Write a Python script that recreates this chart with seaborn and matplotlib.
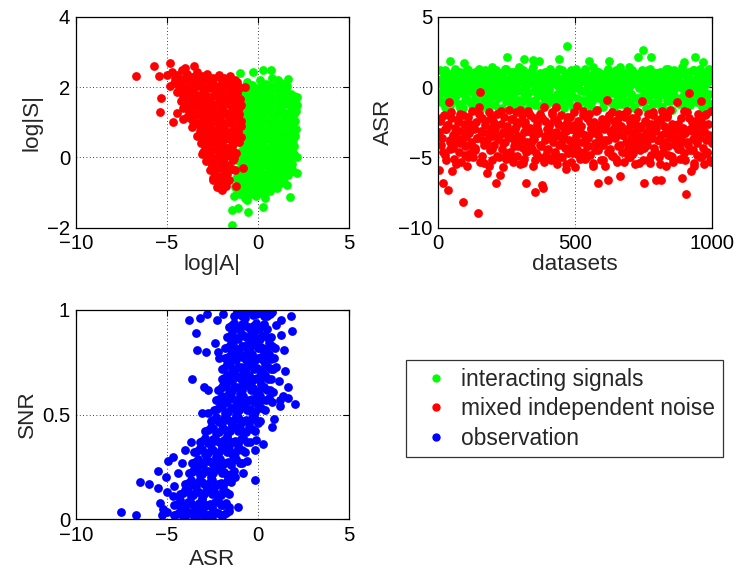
import numpy as np
import matplotlib
matplotlib.use('Agg')
import matplotlib.pyplot as plt
from matplotlib.lines import Line2D
from matplotlib.ticker import FuncFormatter
import seaborn as sns

# top-left: log|A| vs log|S| for interacting signals (green)
signal_pts = np.array([
    (-1.54, 2.23), (-0.99, 2.39), (-0.26, 2.44), (0.26, 2.48), (0.7, 2.48), (1.1, 2.2), (1.65, 2.22),
    (2.13, 1.73), (2.18, 1.49), (2.18, 0.02), (2.18, -0.45), (1.9, -0.2), (1.76, -1.12), (1.03, -0.88),
    (1.58, -0.79), (-1.41, -1.92), (-1.41, -1.5), (-1.08, -1.45), (-0.53, -1.55), (0.29, -1.42), (-0.62, -1.2),
    (-1.2, 2.1), (-0.6, 2.15), (-0.3, 2.05), (0.1, 2.2), (0.45, 2.1), (0.8, 2.25), (1.3, 2.12), (1.6, 2.02),
    (-0.85, 1.85), (-0.55, 1.95), (-0.25, 1.8), (0.05, 1.92), (0.35, 1.78), (0.65, 1.88), (0.95, 1.97),
    (1.25, 1.82), (1.55, 1.9), (1.85, 1.8),
    (-0.9, 1.6), (-0.6, 1.7), (-0.3, 1.55), (0.0, 1.68), (0.3, 1.58), (0.6, 1.72), (0.9, 1.53), (1.2, 1.66),
    (1.5, 1.6), (1.8, 1.7), (2.05, 1.57),
    (-0.85, 1.4), (-0.55, 1.3), (-0.25, 1.45), (0.05, 1.33), (0.35, 1.42), (0.65, 1.28), (0.95, 1.47),
    (1.25, 1.35), (1.55, 1.27), (1.85, 1.44), (2.1, 1.32),
    (-0.9, 1.15), (-0.6, 1.05), (-0.3, 1.2), (0.0, 1.08), (0.3, 1.18), (0.6, 1.02), (0.9, 1.14), (1.2, 1.22),
    (1.5, 1.06), (1.8, 1.17), (2.05, 1.04),
    (-0.85, 0.85), (-0.55, 0.95), (-0.25, 0.8), (0.05, 0.92), (0.35, 0.78), (0.65, 0.9), (0.95, 0.83),
    (1.25, 0.97), (1.55, 0.8), (1.85, 0.9), (2.1, 0.82),
    (-0.9, 0.6), (-0.6, 0.7), (-0.3, 0.55), (0.0, 0.68), (0.3, 0.58), (0.6, 0.72), (0.9, 0.56), (1.2, 0.66),
    (1.5, 0.58), (1.8, 0.7), (2.05, 0.6),
    (-0.95, 0.4), (-0.65, 0.3), (-0.35, 0.45), (-0.05, 0.33), (0.25, 0.42), (0.55, 0.28), (0.85, 0.38),
    (1.15, 0.45), (1.45, 0.3), (1.75, 0.4), (2.0, 0.32),
    (-1.0, 0.15), (-0.7, 0.05), (-0.4, 0.2), (-0.1, 0.1), (0.2, 0.18), (0.5, 0.03), (0.8, 0.12), (1.1, 0.2),
    (1.4, 0.08), (1.7, 0.16), (2.0, 0.1),
    (-1.05, -0.1), (-0.75, -0.2), (-0.45, -0.05), (-0.15, -0.15), (0.15, -0.22), (0.45, -0.08),
    (0.75, -0.18), (1.05, -0.05), (1.35, -0.2), (1.65, -0.1),
    (-1.1, -0.35), (-0.8, -0.45), (-0.5, -0.3), (-0.2, -0.42), (0.1, -0.33), (0.4, -0.47), (0.7, -0.3),
    (1.0, -0.4), (1.3, -0.35), (1.6, -0.45), (1.95, -0.38),
    (-1.2, -0.6), (-0.9, -0.7), (-0.6, -0.55), (-0.3, -0.68), (0.0, -0.58), (0.3, -0.72), (0.6, -0.6),
    (0.9, -0.65), (1.2, -0.55), (1.45, -0.7),
    (-1.25, -0.85), (-0.95, -0.95), (-0.65, -0.8), (-0.35, -0.9), (-0.05, -0.82), (0.25, -0.95),
    (0.55, -0.85), (0.85, -0.78),
    (-1.3, -1.1), (-1.0, -1.05), (-0.7, -1.15), (-0.4, -1.05), (-0.1, -1.1), (0.2, -1.02), (0.4, -1.15),
    (-0.75, 2.0), (-0.45, 2.05), (-0.15, 1.98), (0.15, 2.03), (0.45, 1.97), (0.75, 2.02), (1.05, 2.05), (1.35, 1.98),
    (-0.7, 1.75), (-0.4, 1.72), (-0.1, 1.77), (0.2, 1.74), (0.5, 1.78), (0.8, 1.73), (1.1, 1.76), (1.4, 1.72),
    (1.7, 1.77), (2.0, 1.74),
    (-0.75, 1.5), (-0.45, 1.47), (-0.15, 1.52), (0.15, 1.49), (0.45, 1.53), (0.75, 1.48), (1.05, 1.51),
    (1.35, 1.47), (1.65, 1.52), (1.95, 1.5),
    (-0.7, 1.25), (-0.4, 1.22), (-0.1, 1.27), (0.2, 1.24), (0.5, 1.28), (0.8, 1.23), (1.1, 1.26), (1.4, 1.22),
    (1.7, 1.27), (2.0, 1.24),
    (-0.75, 1.0), (-0.45, 0.97), (-0.15, 1.02), (0.15, 0.99), (0.45, 1.03), (0.75, 0.98), (1.05, 1.01),
    (1.35, 0.97), (1.65, 1.02), (1.95, 1.0),
    (-0.7, 0.75), (-0.4, 0.72), (-0.1, 0.77), (0.2, 0.74), (0.5, 0.78), (0.8, 0.73), (1.1, 0.76), (1.4, 0.72),
    (1.7, 0.77), (2.0, 0.74),
    (-0.75, 0.5), (-0.45, 0.47), (-0.15, 0.52), (0.15, 0.49), (0.45, 0.53), (0.75, 0.48), (1.05, 0.51),
    (1.35, 0.47), (1.65, 0.52), (1.95, 0.5),
    (-0.8, 0.25), (-0.5, 0.22), (-0.2, 0.27), (0.1, 0.24), (0.4, 0.28), (0.7, 0.23), (1.0, 0.26), (1.3, 0.22),
    (1.6, 0.27), (1.9, 0.24),
    (-0.85, 0.0), (-0.55, -0.03), (-0.25, 0.02), (0.05, -0.01), (0.35, 0.03), (0.65, -0.02), (0.95, 0.01),
    (1.25, -0.03), (1.55, 0.02), (1.85, 0.0),
    (-0.9, -0.25), (-0.6, -0.28), (-0.3, -0.23), (0.0, -0.26), (0.3, -0.22), (0.6, -0.27), (0.9, -0.24),
    (1.2, -0.28), (1.5, -0.23), (1.8, -0.26),
    (-1.05, -0.5), (-0.75, -0.53), (-0.45, -0.48), (-0.15, -0.51), (0.15, -0.47), (0.45, -0.52), (0.75, -0.49),
    (1.05, -0.53), (1.35, -0.48), (1.65, -0.5),
    (-1.1, -0.75), (-0.8, -0.78), (-0.5, -0.73), (-0.2, -0.76), (0.1, -0.72), (0.4, -0.77), (0.7, -0.74),
    (1.0, -0.7), (1.3, -0.73),
    (-1.15, -1.0), (-0.85, -0.97), (-0.55, -1.02), (-0.25, -0.99), (0.05, -0.95), (0.35, -1.0), (0.65, -0.97),
])

# top-left: mixed independent noise (red)
noise_pts = np.array([
    (-6.7, 2.31), (-5.7, 2.6), (-5.43, 2.31), (-4.84, 2.69), (-4.83, 2.04), (-5.34, 1.68), (-5.4, 1.29),
    (-4.66, 1.01), (-4.48, 1.25), (-4.15, 1.08), (-0.72, 1.99), (-1.17, 2.15), (-1.27, -0.36),
    (-1.23, -0.81), (-0.81, -0.31), (-3.06, 0.09), (-2.46, -0.64), (-2.09, -0.88), (-5.0, 2.35),
    (-4.75, 2.42), (-4.45, 2.33), (-4.2, 2.47), (-3.92, 2.36), (-3.6, 2.29), (-3.35, 2.44), (-3.05, 2.31),
    (-2.78, 2.38), (-2.45, 2.27), (-2.15, 2.33), (-1.85, 2.26), (-1.55, 2.3), (-4.0, 2.55), (-3.5, 2.6),
    (-4.6, 2.12), (-4.3, 2.05), (-4.05, 2.2), (-3.75, 2.08), (-3.45, 2.16), (-3.2, 2.02), (-2.9, 2.21),
    (-2.6, 2.1), (-2.3, 2.04), (-2.0, 2.18), (-1.7, 2.07), (-1.4, 2.13), (-1.1, 2.02),
    (-4.45, 1.85), (-4.15, 1.95), (-3.85, 1.8), (-3.55, 1.92), (-3.25, 1.78), (-2.95, 1.88), (-2.65, 1.97),
    (-2.35, 1.8), (-2.05, 1.9), (-1.75, 1.77), (-1.45, 1.94), (-1.15, 1.83),
    (-4.25, 1.6), (-3.95, 1.7), (-3.65, 1.55), (-3.35, 1.68), (-3.05, 1.58), (-2.75, 1.72), (-2.45, 1.53),
    (-2.15, 1.66), (-1.85, 1.6), (-1.55, 1.7), (-1.25, 1.56), (-1.0, 1.65),
    (-4.1, 1.4), (-3.8, 1.3), (-3.5, 1.45), (-3.2, 1.33), (-2.9, 1.42), (-2.6, 1.28), (-2.3, 1.47),
    (-2.0, 1.35), (-1.7, 1.27), (-1.4, 1.44), (-1.1, 1.32), (-0.95, 1.48),
    (-3.9, 1.15), (-3.6, 1.05), (-3.3, 1.2), (-3.0, 1.08), (-2.7, 1.18), (-2.4, 1.02), (-2.1, 1.14),
    (-1.8, 1.22), (-1.5, 1.06), (-1.2, 1.17), (-0.92, 1.04),
    (-3.65, 0.85), (-3.35, 0.95), (-3.05, 0.8), (-2.75, 0.92), (-2.45, 0.78), (-2.15, 0.9), (-1.85, 0.83),
    (-1.55, 0.97), (-1.25, 0.8), (-0.95, 0.9),
    (-3.35, 0.6), (-3.05, 0.7), (-2.75, 0.55), (-2.45, 0.68), (-2.15, 0.58), (-1.85, 0.72), (-1.55, 0.56),
    (-1.25, 0.66), (-0.95, 0.58),
    (-3.15, 0.4), (-2.85, 0.3), (-2.55, 0.45), (-2.25, 0.33), (-1.95, 0.42), (-1.65, 0.28), (-1.35, 0.38),
    (-1.05, 0.45),
    (-3.0, 0.15), (-2.7, 0.05), (-2.4, 0.2), (-2.1, 0.1), (-1.8, 0.18), (-1.5, 0.03), (-1.2, 0.12),
    (-2.85, -0.1), (-2.55, -0.2), (-2.25, -0.05), (-1.95, -0.15), (-1.65, -0.22), (-1.35, -0.08),
    (-2.65, -0.35), (-2.35, -0.45), (-2.05, -0.3), (-1.75, -0.42), (-1.45, -0.33),
    (-2.45, -0.6), (-2.15, -0.7), (-1.85, -0.55), (-1.6, -0.65),
    (-2.25, -0.85), (-1.95, -0.92), (-1.75, -0.8),
    (-4.55, 2.25), (-4.25, 2.22), (-3.95, 2.28), (-3.65, 2.24), (-3.35, 2.27), (-3.05, 2.21), (-2.75, 2.26),
    (-2.45, 2.23), (-2.15, 2.28), (-1.85, 2.22), (-1.55, 2.25), (-1.25, 2.2),
    (-4.35, 2.0), (-4.05, 1.97), (-3.75, 2.02), (-3.45, 1.99), (-3.15, 2.03), (-2.85, 1.98), (-2.55, 2.01),
    (-2.25, 1.97), (-1.95, 2.02), (-1.65, 1.99), (-1.35, 2.03), (-1.05, 1.97),
    (-4.1, 1.75), (-3.8, 1.72), (-3.5, 1.77), (-3.2, 1.74), (-2.9, 1.78), (-2.6, 1.73), (-2.3, 1.76),
    (-2.0, 1.72), (-1.7, 1.77), (-1.4, 1.74), (-1.1, 1.7),
    (-4.0, 1.5), (-3.7, 1.47), (-3.4, 1.52), (-3.1, 1.49), (-2.8, 1.53), (-2.5, 1.48), (-2.2, 1.51),
    (-1.9, 1.47), (-1.6, 1.52), (-1.3, 1.49), (-1.0, 1.45),
    (-3.75, 1.25), (-3.45, 1.22), (-3.15, 1.27), (-2.85, 1.24), (-2.55, 1.28), (-2.25, 1.23), (-1.95, 1.26),
    (-1.65, 1.22), (-1.35, 1.27), (-1.05, 1.24),
    (-3.5, 1.0), (-3.2, 0.97), (-2.9, 1.02), (-2.6, 0.99), (-2.3, 1.03), (-2.0, 0.98), (-1.7, 1.01),
    (-1.4, 0.97), (-1.1, 1.02),
    (-3.2, 0.75), (-2.9, 0.72), (-2.6, 0.77), (-2.3, 0.74), (-2.0, 0.78), (-1.7, 0.73), (-1.4, 0.76), (-1.1, 0.72),
    (-3.0, 0.5), (-2.7, 0.47), (-2.4, 0.52), (-2.1, 0.49), (-1.8, 0.53), (-1.5, 0.48), (-1.2, 0.51),
    (-2.9, 0.25), (-2.6, 0.22), (-2.3, 0.27), (-2.0, 0.24), (-1.7, 0.28), (-1.4, 0.23),
    (-2.75, 0.0), (-2.45, -0.03), (-2.15, 0.02), (-1.85, -0.01), (-1.55, 0.03), (-1.3, -0.02),
    (-2.5, -0.25), (-2.2, -0.28), (-1.9, -0.23), (-1.6, -0.26),
    (-2.3, -0.5), (-2.0, -0.53), (-1.7, -0.48), (-2.0, -0.75),
])

# top-right: ASR per dataset (two interleaved halves of the datasets)
signal_asr = [
    0.3, -0.5, 1.2, -1.1, 0.6, -0.2, 0.9, -1.4, 0.1, 1.0, -0.7, 0.4, -1.6, 1.85, -0.3, 0.7, -0.9, 0.2, 1.3, -0.6,
    -0.1, 0.8, -1.2, 0.5, 1.1, -0.4, 0.0, -1.5, 1.73, 0.6, -0.8, 0.3, 1.2, -1.0, -0.2, 0.9, 0.4, -1.3, 0.7, -0.5,
    1.0, -0.9, 0.2, -0.3, 1.3, -1.6, 0.5, 0.8, -0.6, 0.1, -1.1, 1.1, -0.2, 0.6, -1.4, 0.3, 0.9, -0.7, 1.4, 0.0,
    -0.4, 0.7, -1.3, 1.2, 0.2, -0.8, 0.5, -0.1, 1.0, -1.5, 0.4, 0.8, -0.6, 1.3, -1.0, 2.1, 0.1, -0.3, 0.6, -1.2,
    0.9, -0.5, 0.3, 1.1, -1.4, 0.0, 0.7, -0.9, 1.4, -0.2, 0.5, -1.1, 0.8, 1.97, -0.7, 0.2, -1.6, 1.0, -0.4, 0.6,
    -1.0, 0.4, 1.2, 1.92, -0.3, 0.8, -1.3, 0.1, 0.6, -0.6, 1.85, -0.1, -1.5, 0.9, 0.3, -0.8, 1.1, -0.4, 0.5, -1.2,
    0.7, -0.2, 1.3, -1.0, 0.2, -0.7, 1.0, 0.4, -1.4, 0.8, -0.5, 0.1, 1.99, -0.9, 0.6, 1.2, -1.2, 0.0, -0.3, 0.9,
    -0.6, 2.94, 0.3, -1.1, 1.1, -0.4, 0.7, -1.5, 0.5, 0.0, 1.3, -0.8, 0.2, -1.3, 0.9, -0.2, 0.6, 1.0, -0.9, 0.4,
    1.2, -0.3, -1.2, 0.8, 0.1, 1.85, -0.6, 0.5, -1.0, 1.4, 0.3, -0.5, -1.6, 0.7, 0.0, 1.1, -0.8, 0.4, -0.1, 0.9,
    -1.4, 0.6, 0.2, -0.7, 1.0, -0.2, 1.3, 1.85, -1.1, 0.4, -0.4, 0.8, -1.5, 0.1, 1.2, -0.9, 0.5, -0.3, 0.9, -1.2,
    0.3, 1.1, -0.6, 0.7, -1.3, 0.0, 0.9, -0.2, 1.4, -1.0, 0.5, -0.5, 0.2, 1.0, -1.4, 0.6, -0.8, 0.4, 2.1, -0.1,
    0.8, -1.1, 0.3, 1.2, 2.63, -0.4, 0.6, -1.5, 0.1, 0.9, -0.7, 1.3, 2.16, -0.2, 0.5, -1.2, 0.0, 1.0, -0.6, 0.4,
    -0.9, 0.7, 1.1, -0.3, 0.2, -1.4, 0.8, 0.4, -0.6, 1.3, -1.0, 0.1, 0.6, -0.2, 1.0, -1.6, 0.5, -0.5, 1.2, 0.0,
    0.6, -0.8, 1.0, -1.2, 0.3, 0.9, -0.1, 1.4, -0.7, 1.8, 0.2, -1.3, 0.7, -0.4, 1.1, 0.0, -1.0, 0.5, 1.2, -0.5,
    -0.2, 2.1, 0.4, -1.1, 0.8, -0.6, 1.3, 0.1, -1.4, 1.8, 0.6, -0.3, 1.0, -0.9, 0.3, 1.2, -0.5, 0.7, -1.2, 0.5,
]
signal_asr_b = [
    0.5, -1.0, 0.1, 1.2, -0.4, 0.8, -1.3, 0.3, 1.0, -0.7, 0.6, -0.1, -1.5, 0.9, 0.2, -0.9, 1.3, -0.3, 0.7, -1.1,
    0.0, 1.1, -0.6, 0.4, -1.4, 0.8, -0.2, 1.2, -0.8, 0.3, -1.2, 0.6, 1.0, -0.5, 0.1, -1.6, 0.9, -0.1, 0.5, 1.3,
    -0.7, 0.2, 1.1, -1.0, 0.6, -0.3, 0.9, -1.5, 0.4, 1.2, -0.6, 0.0, 0.8, -1.2, 0.3, 1.4, -0.9, 0.5, -0.2, 1.0,
    -1.3, 0.7, 0.1, -0.5, 1.1, -0.8, 0.4, 0.9, -1.1, 0.2, 1.3, -0.4, 0.6, -1.5, 0.0, 0.8, -0.7, 1.2, -0.1, 0.5,
    1.0, -1.2, 0.3, 0.7, -0.3, 1.3, -0.9, 0.1, 0.6, -1.4, 0.9, -0.2, 0.4, 1.1, -0.6, 0.2, -1.0, 0.8, -0.4, 1.2,
    -0.1, 0.6, -1.3, 1.0, 0.3, -0.7, 1.4, -0.2, 0.5, -1.1, 0.8, 0.0, -0.5, 1.2, -1.5, 0.4, 0.9, -0.8, 0.2, 1.1,
    0.4, -0.9, 1.2, -0.3, 0.7, -1.2, 0.1, 1.0, -0.6, 0.5, -1.4, 0.9, 0.2, -0.1, 1.3, -1.0, 0.6, -0.4, 0.8, 0.0,
    -1.1, 0.9, 0.3, -0.5, 1.1, -0.8, 0.6, -1.3, 0.0, 1.2, -0.2, 0.7, -0.9, 0.4, 1.0, -1.5, 0.2, -0.6, 1.3, 0.5,
]
noise_asr = [
    -3.2, -5.9, -2.4, -4.1, -3.6, -6.8, -2.0, -4.8, -3.0, -2.7, -7.3, -1.04, -4.4, -3.8, -2.2, -6.0, -3.4, -5.1, -2.9, -4.0,
    -3.7, -2.3, -4.6, -3.1, -1.9, -5.3, -3.9, -8.15, -2.6, -4.2, -3.5, -5.6, -2.1, -3.3, -4.7, -2.8, -3.9, -1.7, -5.0, -3.0,
    -4.3, -2.5, -3.6, -8.98, -1.4, -0.38, -3.1, -4.9, -2.2, -3.8, -5.4, -2.7, -4.0, -6.1, -3.3, -1.8, -4.5, -2.9, -3.5, -5.2,
    -2.4, -4.1, -3.0, -6.85, -1.9, -3.7, -5.0, -6.26, -2.6, -4.4, -3.2, -5.7, -2.1, -3.9, -4.8, -2.8, -3.4, -1.6, -4.6, -3.1,
    -3.6, -5.3, -2.3, -4.2, -3.0, -1.8, -4.9, -3.5, -2.5, -5.5, -3.8, -2.0, -4.3, -3.2, -5.1, -2.7, -6.8, -3.9, -1.7, -4.5,
    -2.9, -4.0, -3.3, -5.6, -2.2, -3.7, -7.44, -4.7, -2.6, -3.1, -5.0, -1.9, -4.2, -6.97, -7.2, -1.45, -3.5, -2.4, -4.8, -3.0,
    -4.4, -2.8, -3.6, -5.2, -1.8, -3.9, -2.3, -4.6, -1.45, -3.2, -5.5, -2.6, -4.1, -3.4, -2.0, -5.0, -3.7, -2.9, -4.3, -5.8,
    -3.1, -2.5, -4.7, -3.8, -2.1, -5.3, -3.0, -4.0, -2.7, -5.7, -3.5, -1.35, -4.4, -2.4, -3.2, -5.1, -2.8, -3.9, -1.7, -4.6,
    -3.4, -5.0, -2.2, -4.2, -3.6, -1.9, -4.8, -2.9, -3.3, -5.4, -2.5, -4.0, -3.1, -1.6, -4.5, -6.85, -2.7, -3.7, -5.2, -2.3,
    -4.1, -3.0, -5.6, -2.6, -0.92, -6.6, -3.8, -2.0, -4.4, -3.3, -1.8, -4.9, -2.9, -3.5, -5.1, -2.4, -4.2, -3.0, -1.9, -6.3,
    -2.8, -4.6, -3.4, -5.3, -2.1, -3.9, -1.7, -4.3, -3.1, -2.5, -5.0, -3.6, -2.2, -4.7, -3.2, -5.5, -2.7, -4.0, -1.8, -3.5,
    -4.5, -2.9, -3.7, -0.97, -5.2, -6.85, -2.4, -3.3, -4.1, -1.9, -3.0, -5.4, -2.6, -4.8, -3.6, -2.0, -4.3, -3.1, -6.6, -2.5,
    -3.8, -5.0, -2.3, -6.6, -3.4, -1.7, -4.6, -2.8, -3.9, -5.6, -2.1, -4.2, -3.0, -1.6, -4.9, -3.5, -2.6, -5.3, -3.2, -4.0,
    -2.7, -1.04, -4.4, -3.6, -5.1, -2.2, -3.9, -6.5, -2.9, -4.7, -3.3, -7.63, -1.8, -4.1, -0.45, -3.0, -5.97, -2.5, -4.5, -3.7,
    -5.4, -2.4, -3.2, -4.8, -1.9, -3.6, -5.0, -0.97, -2.8, -4.3, -3.1, -5.5, -2.0, -3.8, -4.6, -2.6, -3.4, -5.2, -1.7, -4.0,
]
noise_asr_b = [
    -3.5, -2.2, -4.6, -3.0, -5.2, -2.7, -3.9, -1.8, -4.3, -3.3, -5.5, -2.5, -4.0, -3.7, -2.0, -4.8, -3.1, -5.0, -2.6, -4.2,
    -2.9, -4.5, -3.6, -1.9, -5.3, -3.2, -4.1, -2.4, -3.8, -5.6, -2.1, -4.4, -3.0, -2.7, -4.9, -3.5, -1.7, -4.0, -3.3, -5.1,
    -4.7, -3.4, -2.3, -5.0, -3.9, -2.8, -4.2, -1.6, -3.6, -5.4, -2.5, -4.6, -3.1, -2.0, -4.4, -3.7, -5.2, -2.9, -3.3, -4.1,
    -2.2, -5.3, -3.8, -4.5, -2.6, -3.2, -1.9, -4.9, -3.5, -2.4, -5.0, -4.0, -2.8, -3.6, -5.5, -2.1, -4.3, -3.0, -4.7, -1.8,
    -3.9, -2.7, -4.8, -3.3, -2.0, -5.1, -3.7, -4.2, -2.5, -3.0, -5.6, -4.5, -1.7, -3.4, -4.0, -2.9, -5.2, -3.8, -2.3, -4.6,
    -3.1, -4.9, -2.4, -3.6, -5.3, -2.1, -4.1, -3.4, -1.9, -4.7, -3.0, -5.0, -2.6, -3.9, -4.4, -2.2, -3.5, -5.4, -2.8, -4.0,
    -4.3, -2.5, -3.7, -5.1, -3.2, -1.8, -4.6, -2.9, -3.8, -5.5, -2.3, -4.2, -3.3, -2.0, -4.8, -3.6, -5.0, -2.7, -4.1, -3.0,
    -2.6, -4.4, -3.4, -1.7, -5.2, -3.9, -2.2, -4.5, -3.1, -5.6, -2.8, -4.0, -3.5, -2.4, -4.9, -3.2, -1.9, -4.7, -3.7, -5.3,
]
datasets = np.linspace(1, 1000, len(signal_asr))
datasets_b = np.linspace(4, 997, len(signal_asr_b))

# bottom-left: observation ASR vs SNR (blue)
obs_pts = np.array([
    (-1.3, 0.97), (-1.0, 0.99), (-0.7, 0.96), (-0.4, 1.0), (-0.1, 0.98), (0.2, 0.99), (0.5, 0.97), (0.8, 0.99),
    (-0.85, 1.0), (-0.25, 0.995), (0.35, 1.0), (-1.15, 0.995), (-3.78, 0.95), (-3.19, 0.96), (-2.8, 0.98),
    (-2.24, 0.95), (-1.9, 0.98), (1.3, 0.95), (1.82, 0.97),
    (-1.6, 0.92), (-1.3, 0.94), (-1.0, 0.91), (-0.7, 0.93), (-0.4, 0.9), (-0.1, 0.94), (0.2, 0.92), (0.5, 0.91),
    (-3.43, 0.89), (1.89, 0.9), (1.0, 0.93),
    (-1.7, 0.87), (-1.4, 0.89), (-1.1, 0.86), (-0.8, 0.88), (-0.5, 0.85), (-0.2, 0.89), (0.1, 0.86), (0.4, 0.88),
    (0.7, 0.87), (1.3, 0.88),
    (-1.8, 0.82), (-1.5, 0.84), (-1.2, 0.81), (-0.9, 0.83), (-0.6, 0.8), (-0.3, 0.84), (0.0, 0.82), (0.3, 0.81),
    (0.6, 0.84), (0.95, 0.82), (-3.35, 0.81), (-2.86, 0.8), (-2.37, 0.84), (1.45, 0.81),
    (-1.8, 0.77), (-1.5, 0.79), (-1.2, 0.76), (-0.9, 0.78), (-0.6, 0.75), (-0.3, 0.79), (0.0, 0.77), (0.3, 0.76),
    (0.6, 0.79), (0.9, 0.77), (-2.18, 0.8), (-2.15, 0.77),
    (-2.0, 0.72), (-1.7, 0.74), (-1.4, 0.71), (-1.1, 0.73), (-0.8, 0.7), (-0.5, 0.74), (-0.2, 0.72), (0.1, 0.71),
    (0.4, 0.74), (0.7, 0.72), (1.0, 0.73), (1.49, 0.71),
    (-2.0, 0.67), (-1.7, 0.69), (-1.4, 0.66), (-1.1, 0.68), (-0.8, 0.65), (-0.5, 0.69), (-0.2, 0.67), (0.1, 0.66),
    (0.4, 0.69), (0.75, 0.67), (-3.61, 0.67), (1.15, 0.66),
    (-2.2, 0.62), (-1.9, 0.64), (-1.6, 0.61), (-1.3, 0.63), (-1.0, 0.6), (-0.7, 0.64), (-0.4, 0.62), (-0.1, 0.61),
    (0.2, 0.64), (0.5, 0.62), (0.85, 0.61), (-2.97, 0.63), (-2.73, 0.62), (1.67, 0.63),
    (-2.3, 0.57), (-2.0, 0.59), (-1.7, 0.56), (-1.4, 0.58), (-1.1, 0.55), (-0.8, 0.59), (-0.5, 0.57), (-0.2, 0.56),
    (0.1, 0.59), (0.45, 0.57), (0.8, 0.56), (1.67, 0.58), (1.2, 0.57), (2.04, 0.55), (1.4, 0.59),
    (-2.4, 0.52), (-2.1, 0.54), (-1.8, 0.51), (-1.5, 0.53), (-1.2, 0.5), (-0.9, 0.54), (-0.6, 0.52), (-0.3, 0.51),
    (0.0, 0.54), (0.4, 0.52), (-3.06, 0.51), (-2.73, 0.51), (1.2, 0.54),
    (-2.6, 0.47), (-2.3, 0.49), (-2.0, 0.46), (-1.7, 0.48), (-1.4, 0.45), (-1.1, 0.49), (-0.8, 0.47), (-0.5, 0.46),
    (-0.2, 0.49), (0.1, 0.47), (0.9, 0.48), (0.79, 0.44), (0.02, 0.46),
    (-2.9, 0.42), (-2.6, 0.44), (-2.3, 0.41), (-2.0, 0.43), (-1.7, 0.4), (-1.4, 0.44), (-1.1, 0.42), (-0.8, 0.41),
    (-0.5, 0.44), (-0.15, 0.42),
    (-3.2, 0.37), (-2.9, 0.39), (-2.6, 0.36), (-2.3, 0.38), (-2.0, 0.35), (-1.7, 0.39), (-1.4, 0.37), (-1.1, 0.36),
    (-0.8, 0.39), (-0.45, 0.37), (-3.7, 0.37), (0.3, 0.36), (-0.1, 0.38),
    (-3.5, 0.32), (-3.2, 0.34), (-2.9, 0.31), (-2.6, 0.33), (-2.3, 0.3), (-2.0, 0.34), (-1.7, 0.32), (-1.4, 0.31),
    (-1.1, 0.34), (-0.7, 0.32), (-0.17, 0.33), (-4.0, 0.33),
    (-3.6, 0.27), (-3.3, 0.29), (-3.0, 0.26), (-2.7, 0.28), (-2.4, 0.25), (-2.1, 0.29), (-1.8, 0.27), (-1.5, 0.26),
    (-1.2, 0.29), (-0.85, 0.27), (-4.66, 0.3), (-4.93, 0.28), (-0.62, 0.28), (-4.2, 0.27),
    (-3.8, 0.22), (-3.5, 0.24), (-3.2, 0.21), (-2.9, 0.23), (-2.6, 0.2), (-2.3, 0.24), (-2.0, 0.22), (-1.7, 0.21),
    (-1.3, 0.23), (-5.52, 0.23), (-5.08, 0.2), (-0.81, 0.22), (-4.4, 0.22),
    (-4.0, 0.17), (-3.7, 0.19), (-3.4, 0.16), (-3.1, 0.18), (-2.8, 0.15), (-2.5, 0.19), (-2.2, 0.17), (-1.9, 0.16),
    (-1.5, 0.18), (-6.5, 0.18), (-5.98, 0.17), (-5.52, 0.15), (-1.27, 0.2), (-0.17, 0.19), (-4.6, 0.16),
    (-4.3, 0.12), (-4.0, 0.14), (-3.7, 0.11), (-3.4, 0.13), (-3.1, 0.1), (-2.8, 0.14), (-2.5, 0.12), (-2.2, 0.11),
    (-1.9, 0.14), (-1.6, 0.12), (-5.0, 0.13), (-4.7, 0.11),
    (-4.6, 0.07), (-4.3, 0.09), (-4.0, 0.06), (-3.7, 0.08), (-3.4, 0.05), (-3.1, 0.09), (-2.8, 0.07), (-2.5, 0.06),
    (-2.2, 0.09), (-1.9, 0.07), (-1.6, 0.06), (-5.4, 0.08), (-1.08, 0.06), (-5.2, 0.05),
    (-4.6, 0.02), (-4.3, 0.04), (-4.0, 0.01), (-3.7, 0.03), (-3.4, 0.0), (-3.1, 0.04), (-2.8, 0.02), (-2.5, 0.01),
    (-2.2, 0.03), (-1.9, 0.02), (-1.6, 0.04), (-7.54, 0.037), (-6.73, 0.02), (-5.3, 0.02), (-5.0, 0.035),
    (-1.15, 0.98), (-0.85, 0.97), (-0.55, 0.99), (-0.25, 0.975), (0.05, 0.985), (0.35, 0.97), (0.65, 0.98),
    (-1.45, 0.93), (-1.15, 0.915), (-0.85, 0.935), (-0.55, 0.92), (-0.25, 0.925), (0.05, 0.91), (0.35, 0.935),
    (-1.55, 0.875), (-1.25, 0.865), (-0.95, 0.885), (-0.65, 0.87), (-0.35, 0.88), (-0.05, 0.86), (0.25, 0.875),
    (0.55, 0.865),
    (-1.65, 0.825), (-1.35, 0.835), (-1.05, 0.815), (-0.75, 0.83), (-0.45, 0.82), (-0.15, 0.84), (0.15, 0.825),
    (0.45, 0.815), (0.8, 0.83),
    (-1.65, 0.775), (-1.35, 0.765), (-1.05, 0.785), (-0.75, 0.77), (-0.45, 0.78), (-0.15, 0.76), (0.15, 0.775),
    (0.45, 0.785), (0.75, 0.765),
    (-1.85, 0.725), (-1.55, 0.735), (-1.25, 0.715), (-0.95, 0.73), (-0.65, 0.72), (-0.35, 0.74), (-0.05, 0.725),
    (0.25, 0.715), (0.55, 0.73), (0.85, 0.72),
    (-1.85, 0.675), (-1.55, 0.665), (-1.25, 0.685), (-0.95, 0.67), (-0.65, 0.68), (-0.35, 0.66), (-0.05, 0.675),
    (0.25, 0.685), (0.55, 0.67),
    (-2.05, 0.625), (-1.75, 0.635), (-1.45, 0.615), (-1.15, 0.63), (-0.85, 0.62), (-0.55, 0.64), (-0.25, 0.625),
    (0.05, 0.615), (0.35, 0.63), (0.65, 0.62),
    (-2.15, 0.575), (-1.85, 0.565), (-1.55, 0.585), (-1.25, 0.57), (-0.95, 0.58), (-0.65, 0.56), (-0.35, 0.575),
    (-0.05, 0.585), (0.25, 0.57), (0.6, 0.58),
    (-2.25, 0.525), (-1.95, 0.535), (-1.65, 0.515), (-1.35, 0.53), (-1.05, 0.52), (-0.75, 0.54), (-0.45, 0.525),
    (-0.15, 0.515), (0.2, 0.53),
    (-2.45, 0.475), (-2.15, 0.465), (-1.85, 0.485), (-1.55, 0.47), (-1.25, 0.48), (-0.95, 0.46), (-0.65, 0.475),
    (-0.35, 0.485), (-0.05, 0.47),
    (-2.75, 0.425), (-2.45, 0.435), (-2.15, 0.415), (-1.85, 0.43), (-1.55, 0.42), (-1.25, 0.44), (-0.95, 0.425),
    (-0.65, 0.415), (-0.35, 0.43),
    (-3.05, 0.375), (-2.75, 0.365), (-2.45, 0.385), (-2.15, 0.37), (-1.85, 0.38), (-1.55, 0.36), (-1.25, 0.375),
    (-0.95, 0.385), (-0.6, 0.37),
    (-3.35, 0.325), (-3.05, 0.335), (-2.75, 0.315), (-2.45, 0.33), (-2.15, 0.32), (-1.85, 0.34), (-1.55, 0.325),
    (-1.25, 0.315), (-0.9, 0.33),
    (-3.45, 0.275), (-3.15, 0.265), (-2.85, 0.285), (-2.55, 0.27), (-2.25, 0.28), (-1.95, 0.26), (-1.65, 0.275),
    (-1.35, 0.285), (-1.0, 0.27),
    (-3.65, 0.225), (-3.35, 0.235), (-3.05, 0.215), (-2.75, 0.23), (-2.45, 0.22), (-2.15, 0.24), (-1.85, 0.225),
    (-1.5, 0.215),
    (-3.85, 0.175), (-3.55, 0.165), (-3.25, 0.185), (-2.95, 0.17), (-2.65, 0.18), (-2.35, 0.16), (-2.05, 0.175),
    (-1.7, 0.185),
    (-4.15, 0.125), (-3.85, 0.135), (-3.55, 0.115), (-3.25, 0.13), (-2.95, 0.12), (-2.65, 0.14), (-2.35, 0.125),
    (-2.05, 0.115), (-1.75, 0.13),
    (-4.45, 0.075), (-4.15, 0.065), (-3.85, 0.085), (-3.55, 0.07), (-3.25, 0.08), (-2.95, 0.06), (-2.65, 0.075),
    (-2.35, 0.085), (-2.05, 0.07), (-1.75, 0.08),
    (-4.45, 0.025), (-4.15, 0.015), (-3.85, 0.035), (-3.55, 0.02), (-3.25, 0.03), (-2.95, 0.01), (-2.65, 0.025),
    (-2.35, 0.035), (-2.05, 0.02), (-1.75, 0.03),
])

labels = ['interacting signals', 'mixed independent noise', 'observation']
green = (0, 1, 0)
red = (1, 0, 0)
blue = (0, 0, 1)

sns.set_style('white')
plt.rcParams['font.family'] = ['Liberation Sans', 'DejaVu Sans']
plt.rcParams['axes.unicode_minus'] = True
tick_fs = 14.6
label_fs = 16.2

fig = plt.figure(figsize=(7.38, 5.69), dpi=100)
ax1 = fig.add_axes([0.1034, 0.5998, 0.369, 0.3709])
ax2 = fig.add_axes([0.5939, 0.5998, 0.3705, 0.3709])
ax3 = fig.add_axes([0.1034, 0.0873, 0.369, 0.3679])

ms = 40
sns.scatterplot(x=signal_pts[:, 0], y=signal_pts[:, 1], color=green, s=ms, linewidth=0, ax=ax1, legend=False)
sns.scatterplot(x=noise_pts[:, 0], y=noise_pts[:, 1], color=red, s=ms, linewidth=0, ax=ax1, legend=False)
sns.scatterplot(x=np.concatenate([datasets, datasets_b]), y=signal_asr + signal_asr_b,
                color=green, s=ms, linewidth=0, ax=ax2, legend=False)
sns.scatterplot(x=np.concatenate([datasets, datasets_b]), y=noise_asr + noise_asr_b,
                color=red, s=ms, linewidth=0, ax=ax2, legend=False)
sns.scatterplot(x=obs_pts[:, 0], y=obs_pts[:, 1], color=blue, s=ms, linewidth=0, ax=ax3, legend=False)

fmt = FuncFormatter(lambda v, p: f'{v:g}'.replace('-', '\u2212'))

ax1.set(xlim=(-10, 5), ylim=(-2, 4), xticks=[-10, -5, 0, 5], yticks=[-2, 0, 2, 4])
ax1.set_xlabel('log|A|', fontsize=label_fs, labelpad=1)
ax1.set_ylabel('log|S|', fontsize=label_fs, labelpad=3)
ax2.set(xlim=(0, 1000), ylim=(-10, 5), xticks=[0, 500, 1000], yticks=[-10, -5, 0, 5])
ax2.set_xlabel('datasets', fontsize=label_fs, labelpad=1)
ax2.set_ylabel('ASR', fontsize=label_fs, labelpad=3)
ax3.set(xlim=(-10, 5), ylim=(0, 1), xticks=[-10, -5, 0, 5], yticks=[0, 0.5, 1])
ax3.set_xlabel('ASR', fontsize=label_fs, labelpad=3)
ax3.set_ylabel('SNR', fontsize=label_fs, labelpad=3)

for ax in (ax1, ax2, ax3):
    ax.xaxis.set_major_formatter(fmt)
    ax.yaxis.set_major_formatter(fmt)
    ax.grid(True, linestyle=(0, (1, 3)), color='k', linewidth=0.6)
    ax.set_axisbelow(True)
    ax.tick_params(direction='in', length=4, width=0.8, top=True, right=True, pad=4.5,
                   labelsize=tick_fs, colors='k')
    for sp in ax.spines.values():
        sp.set_color('k')
        sp.set_linewidth(0.9)
        sp.set_visible(True)

handles = [Line2D([], [], marker='o', ls='', color=c, markersize=5) for c in (green, red, blue)]
leg = fig.legend(handles, labels, loc='upper left', bbox_to_anchor=(406 / 738, 1 - 360 / 569),
                 frameon=True, fancybox=False, edgecolor='k', fontsize=16.4,
                 handletextpad=0.1, borderpad=0.33, labelspacing=0.29, handlelength=2.0, borderaxespad=0)
leg.get_frame().set_linewidth(0.9)

fig.savefig('out.png', dpi=100)
